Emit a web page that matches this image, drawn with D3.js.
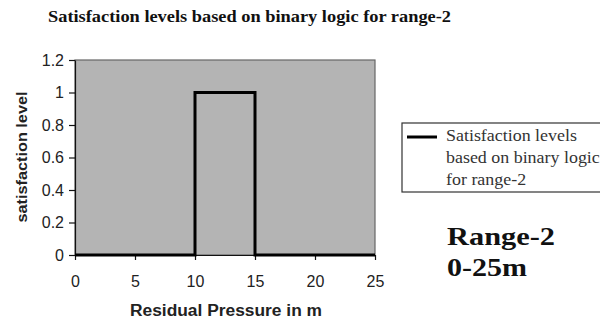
<!DOCTYPE html>
<html>
<head>
<meta charset="utf-8">
<script src="https://cdn.jsdelivr.net/npm/d3@7"></script>
<style>
  body { margin: 0; background: #fff; }
  .axis text { font-family: "Liberation Sans", Arial, sans-serif; font-size: 16px; fill: #222; }
  .axis path, .axis line { stroke: #111; stroke-width: 1.2px; }
  .serif { font-family: "Liberation Serif", "Times New Roman", serif; }
  .sans { font-family: "Liberation Sans", Arial, sans-serif; }
</style>
</head>
<body>
<svg id="chart"></svg>
<script>
// data for the step line
const pressure = [0, 10, 10, 15, 15, 25];
const satisfaction = [0, 0, 1, 1, 0, 0];
const xTicks = [0, 5, 10, 15, 20, 25];
const yTicks = [0, 0.2, 0.4, 0.6, 0.8, 1, 1.2];
const legendLines = ["Satisfaction levels", "based on binary logic", "for range-2"];

const W = 600, H = 323;
let margin = {top: 60, left: 75},
    width = 300,
    height = 195;

let svg = d3.select("#chart").attr("width", W).attr("height", H);

let x = d3.scaleLinear().domain([0, 25]).range([0, width]);
let y = d3.scaleLinear().domain([0, 1.2]).range([height, 0]);

// stretch text a bit wider, the original looks horizontally stretched
function widen(sel, k) {
    sel.each(function() {
        let len = this.getComputedTextLength();
        d3.select(this).attr("textLength", len * k).attr("lengthAdjust", "spacingAndGlyphs");
    });
}

// title
svg.append("text")
    .attr("class", "serif")
    .attr("x", 48).attr("y", 22)
    .attr("font-weight", "bold")
    .attr("font-size", "17px")
    .attr("fill", "#111")
    .text("Satisfaction levels based on binary logic for range-2")
    .attr("textLength", 403).attr("lengthAdjust", "spacingAndGlyphs");

let g = svg.append("g")
    .attr("transform", "translate(" + margin.left + "," + margin.top + ")");

// plot area
g.append("rect")
    .attr("width", width).attr("height", height)
    .attr("fill", "#b4b4b4")
    .attr("stroke", "#666").attr("stroke-width", 1.2);

// axes
g.append("g")
    .attr("class", "axis")
    .attr("transform", "translate(0," + height + ")")
    .call(d3.axisBottom(x).tickValues(xTicks).tickSize(5).tickSizeOuter(0).tickPadding(16));

g.append("g")
    .attr("class", "axis")
    .call(d3.axisLeft(y).tickValues(yTicks).tickSize(6).tickSizeOuter(0).tickPadding(5)
        .tickFormat(d3.format("~g")));

// the line
let points = pressure.map((p, i) => [p, satisfaction[i]]);
g.append("path")
    .datum(points)
    .attr("fill", "none")
    .attr("stroke", "#000")
    .attr("stroke-width", 3)
    .attr("d", d3.line().x(d => x(d[0])).y(d => y(d[1])));

// axis titles
svg.append("text")
    .attr("class", "sans")
    .attr("x", margin.left + width / 2 + 1).attr("y", 316)
    .attr("text-anchor", "middle")
    .attr("font-weight", "bold").attr("font-size", "16px")
    .attr("fill", "#222")
    .text("Residual Pressure in m")
    .attr("textLength", 192).attr("lengthAdjust", "spacingAndGlyphs");

svg.append("text")
    .attr("class", "sans")
    .attr("transform", "translate(27," + 157 + ")rotate(-90)")
    .attr("text-anchor", "middle")
    .attr("font-weight", "bold").attr("font-size", "15px")
    .attr("fill", "#222")
    .text("satisfaction level")
    .attr("textLength", 131).attr("lengthAdjust", "spacingAndGlyphs");

// legend
let lg = svg.append("g").attr("transform", "translate(402,123)");
lg.append("rect")
    .attr("width", 210).attr("height", 69)
    .attr("fill", "#fff").attr("stroke", "#333").attr("stroke-width", 1.2);
lg.append("line")
    .attr("x1", 5).attr("x2", 35).attr("y1", 14).attr("y2", 14)
    .attr("stroke", "#000").attr("stroke-width", 3);
lg.selectAll("text.leg")
    .data(legendLines)
    .enter()
    .append("text")
    .attr("class", "leg serif")
    .attr("x", 44)
    .attr("y", (d, i) => 18 + i * 22)
    .attr("font-size", "16px")
    .attr("fill", "#333")
    .text(d => d)
    .call(widen, 1.12);

// range annotation
svg.append("text")
    .attr("class", "serif")
    .attr("x", 447).attr("y", 245)
    .attr("font-weight", "bold").attr("font-size", "26px")
    .attr("fill", "#111")
    .text("Range-2")
    .attr("textLength", 108).attr("lengthAdjust", "spacingAndGlyphs");
svg.append("text")
    .attr("class", "serif")
    .attr("x", 447).attr("y", 276)
    .attr("font-weight", "bold").attr("font-size", "26px")
    .attr("fill", "#111")
    .text("0-25m")
    .attr("textLength", 80).attr("lengthAdjust", "spacingAndGlyphs");
</script>
</body>
</html>
